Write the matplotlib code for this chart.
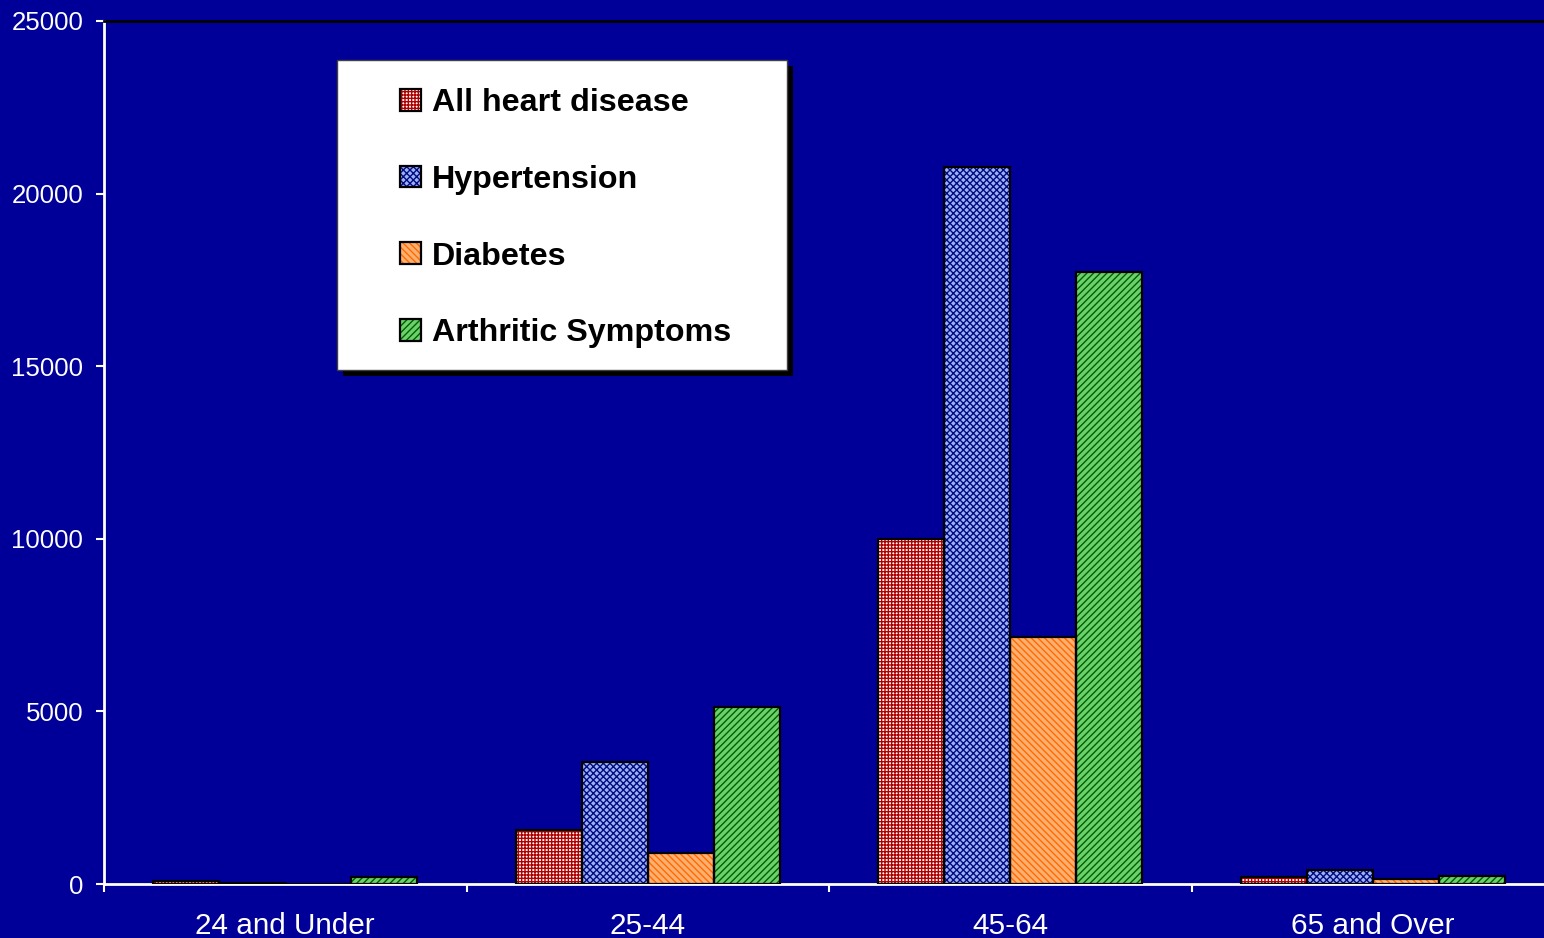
import numpy as np
import matplotlib
matplotlib.use("Agg")
import matplotlib.pyplot as plt
from matplotlib.patches import Rectangle

# data
age_groups = ["24 and Under", "25-44", "45-64", "65 and Over"]
series_names = ["All heart disease", "Hypertension", "Diabetes", "Arthritic Symptoms"]
heart = [80, 1560, 10000, 210]
hypertension = [30, 3530, 20780, 400]
diabetes = [0, 900, 7150, 150]
arthritic = [200, 5130, 17720, 230]

values = [heart, hypertension, diabetes, arthritic]
face_colors = ["#ffffff", "#9eb0f5", "#ffb070", "#6cd06c"]
hatch_colors = ["#b00000", "#000c80", "#ff6a00", "#006000"]
hatches = ["+++++", "xxxxx", "\\\\\\\\\\", "/////"]

bg = "#000099"
plt.rcParams['font.family'] = ['Liberation Sans', 'DejaVu Sans']
plt.rcParams['hatch.linewidth'] = 1.0

fig = plt.figure(figsize=(15.44, 9.38), dpi=100, facecolor=bg)
ax = fig.add_axes([104 / 1544, 54 / 938, 1450 / 1544, 863 / 938])
ax.set_facecolor(bg)

x = np.arange(len(age_groups))
w = 0.182
handles = []
for i in range(4):
    pos = x + (i - 1.5) * w
    b1 = ax.bar(pos, values[i], w, color=face_colors[i], edgecolor=hatch_colors[i],
                hatch=hatches[i], linewidth=0, zorder=2)
    b2 = ax.bar(pos, values[i], w, fill=False, edgecolor="black", linewidth=1.6, zorder=3)
    handles.append((b1[0], b2[0]))

ax.set_xlim(-0.5, 3.5)
ax.set_ylim(0, 25000)
ax.set_yticks([0, 5000, 10000, 15000, 20000, 25000])
ax.set_xticks(x)
ax.set_xticklabels(age_groups)
ax.set_xticks(np.arange(-0.5, 3.6, 1), minor=True)
ax.tick_params(axis='x', which='major', length=0, pad=20, labelsize=21.4, labelcolor='white')
ax.tick_params(axis='x', which='minor', length=6, width=1.5, color='white', direction='out')
ax.tick_params(axis='y', length=6, width=1.5, color='white', pad=9, labelsize=18.6, labelcolor='white')

for s in ['left', 'bottom']:
    ax.spines[s].set_color('white')
    ax.spines[s].set_linewidth(2)
ax.spines['top'].set_color('black')
ax.spines['top'].set_linewidth(2)
ax.spines['right'].set_visible(False)

# legend box with hard black shadow
fig.patches.append(Rectangle((343 / 1544, 1 - 376 / 938), 450 / 1544, 310 / 938,
                             transform=fig.transFigure, facecolor='black', edgecolor='none', zorder=5))
fig.patches.append(Rectangle((337 / 1544, 1 - 370 / 938), 450 / 1544, 310 / 938,
                             transform=fig.transFigure, facecolor='white', edgecolor='#404040',
                             linewidth=1, zorder=6))

leg = fig.legend(handles, series_names, loc='upper left',
                 bbox_to_anchor=(384 / 1544, 1 - 72 / 938), frameon=False, borderpad=0,
                 handlelength=0.65, handleheight=0.65, handletextpad=0.35, labelspacing=1.45,
                 prop={'weight': 'bold', 'size': 23.2})
leg.set_zorder(7)

fig.savefig("out.png", dpi=100, facecolor=bg)
